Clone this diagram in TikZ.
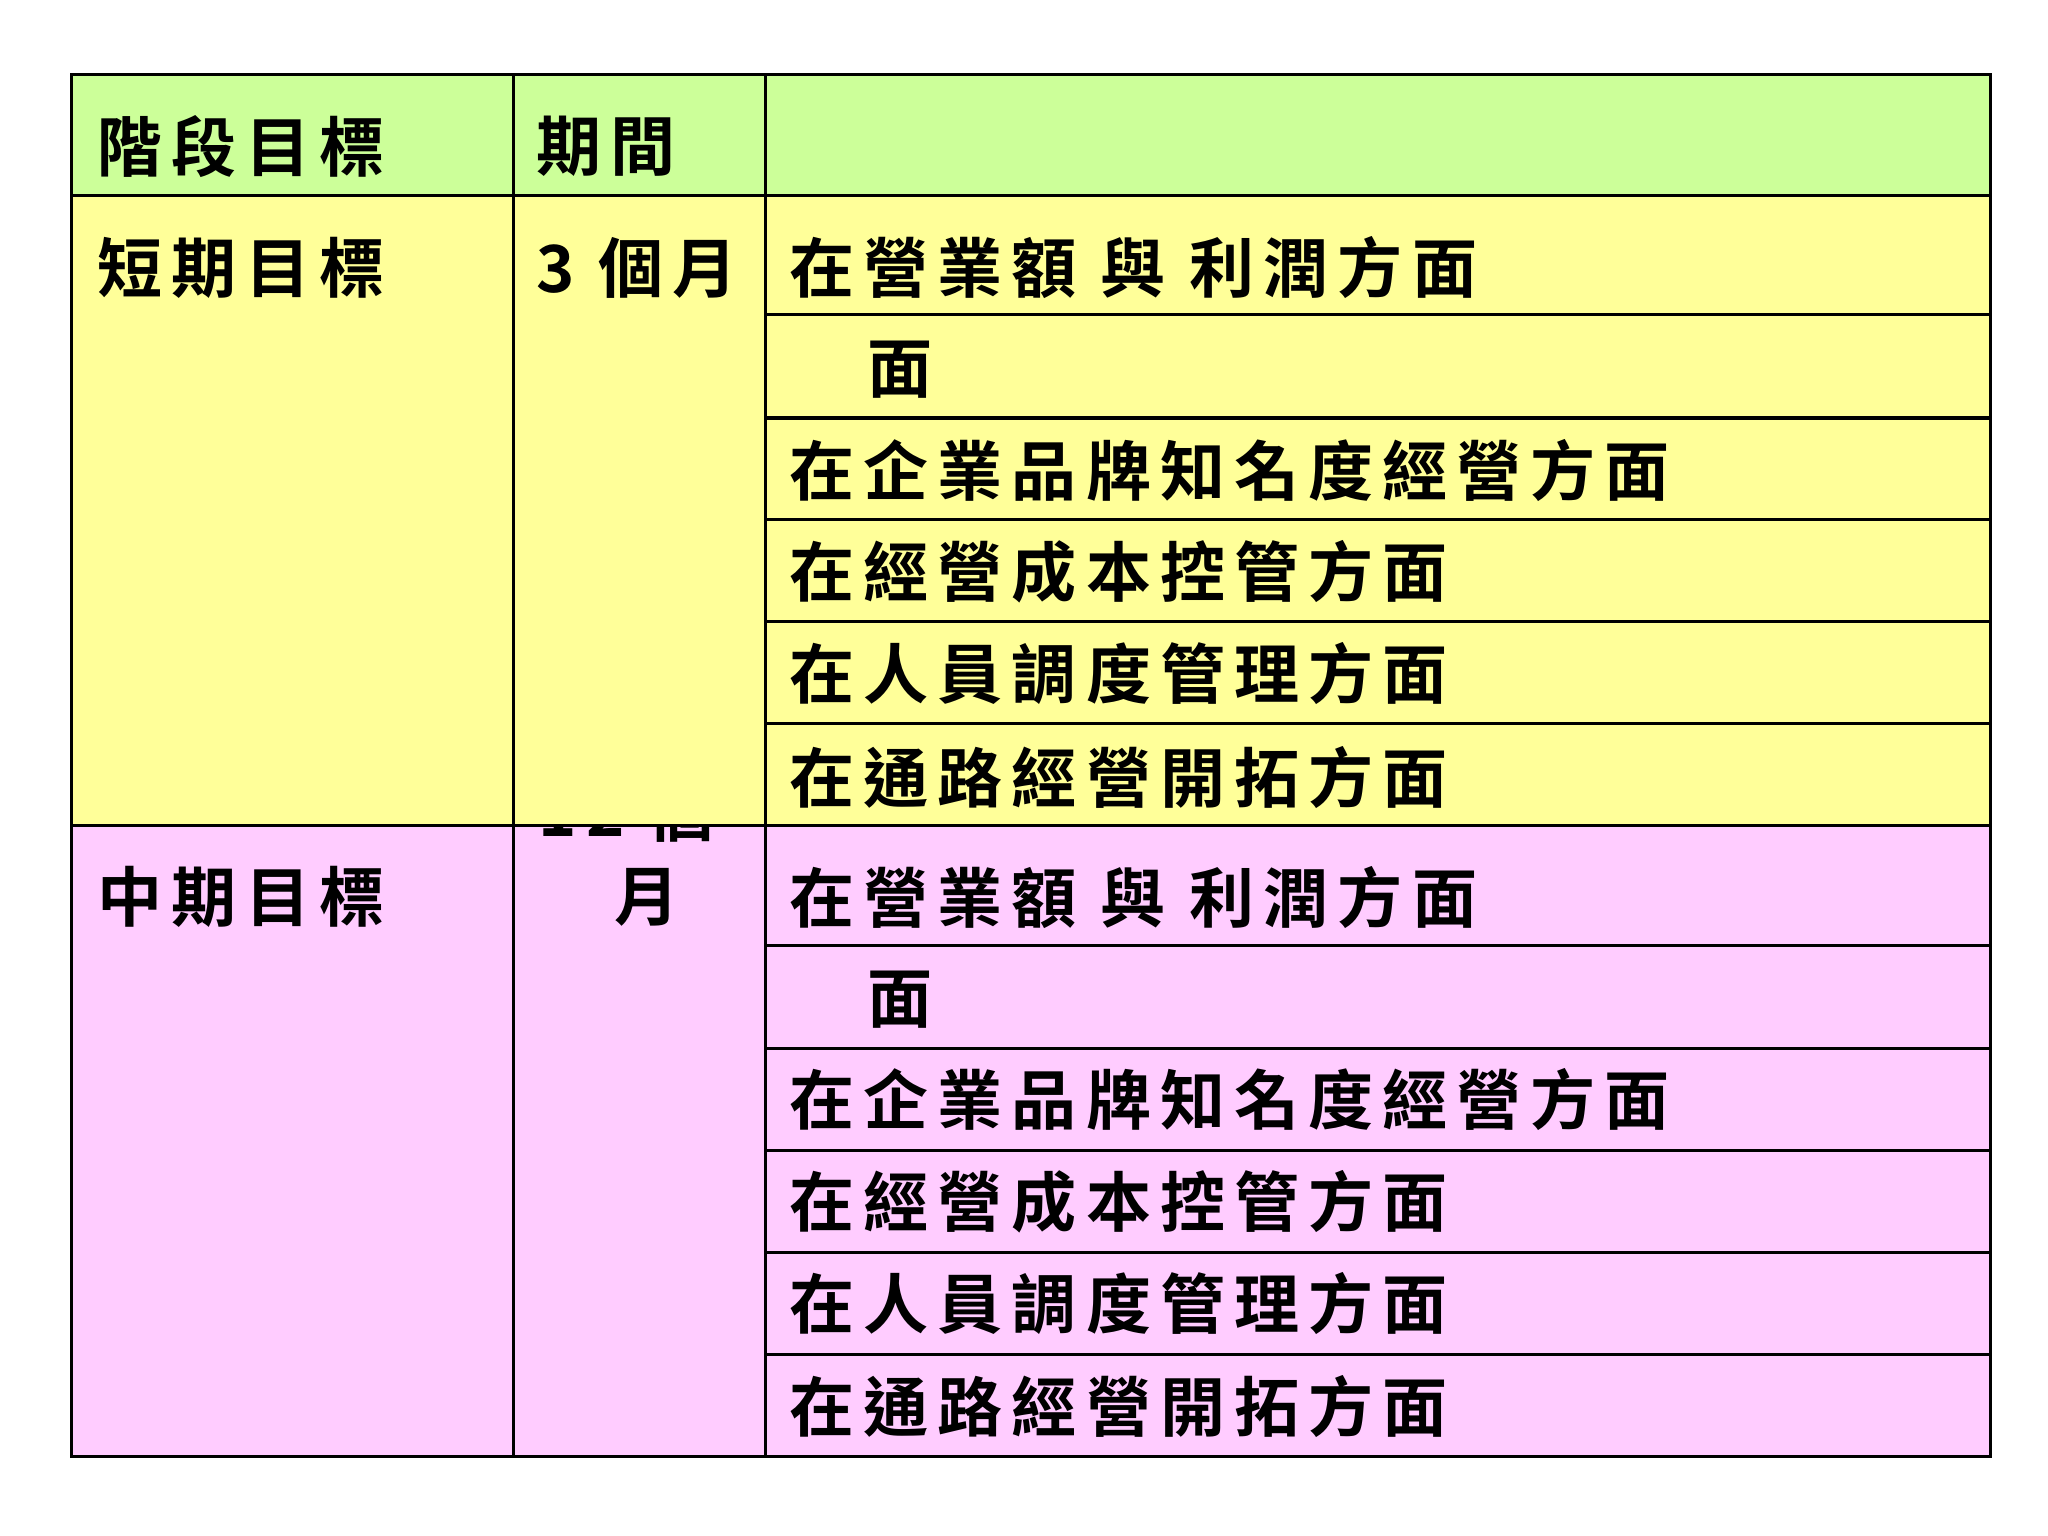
\documentclass[tikz,border=0pt]{standalone}
\usepackage{fontspec}
\newfontfamily\cjk[LetterSpace=14]{Noto Sans CJK TC Bold}
\definecolor{hdr}{HTML}{CCFF99}
\definecolor{yel}{HTML}{FFFF99}
\definecolor{pnk}{HTML}{FFCCFF}
\begin{document}
\begin{tikzpicture}[x=0.01306cm,y=-0.01306cm,
  txt/.style={anchor=west,inner sep=0pt,font=\cjk\fontsize{18.5}{20}\selectfont},
  grid/.style={draw=black,line width=0.9pt}]
\useasboundingbox (0,0) rectangle (1568,1176);
\fill[hdr] (55,57) rectangle (1524,150);
\fill[pnk] (55,632) rectangle (1524,1115);
\node[txt] (p12) at (412,622) {12 個};
\fill[yel] (55,150) rectangle (1524,632);
% header
\node[txt] (h1) at (74,112) {階段目標};
\node[txt] (h2) at (410,112) {期間};
\node[txt] (s1) at (74,205) {短期目標};
\node[txt] (p3) at (410,205) {3 個月};
\node[txt] (m1) at (74,687) {中期目標};
\node[txt] (pm) at (470,687) {月};
\foreach \y/\n in {0/a,482/b}{
  \node[txt] (\n1) at (604,205+\y) {在營業額 與 利潤方面};
  \node[txt] (\n2) at (664,283+\y) {面};
  \node[txt] (\n3) at (604,360+\y) {在企業品牌知名度經營方面};
  \node[txt] (\n4) at (604,438+\y) {在經營成本控管方面};
  \node[txt] (\n5) at (604,516+\y) {在人員調度管理方面};
  \node[txt] (\n6) at (604,595+\y) {在通路經營開拓方面};
}
% grid
\draw[grid] (55,57) rectangle (1524,1115);
\draw[grid] (393,57) -- (393,1115);
\draw[grid] (586,57) -- (586,1115);
\draw[grid] (55,150) -- (1524,150);
\draw[grid] (55,632) -- (1524,632);
\foreach \yy in {241,320,398,476,554,724,803,881,959,1037}
  \draw[grid] (586,\yy) -- (1524,\yy);
\end{tikzpicture}
\end{document}
